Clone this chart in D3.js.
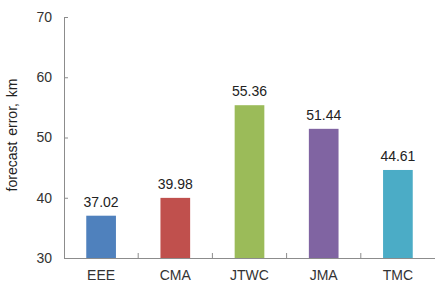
<!DOCTYPE html>
<html>
<head>
<meta charset="utf-8">
<script src="https://cdn.jsdelivr.net/npm/d3@7"></script>
<style>
  body { margin: 0; background: #fff; }
  svg { display: block; font-family: "Liberation Sans", Arial, sans-serif; }
</style>
</head>
<body>
<svg id="chart" width="435" height="285"></svg>
<script>
// forecast error per agency
const agencies = ['EEE', 'CMA', 'JTWC', 'JMA', 'TMC'];
const errors = [37.02, 39.98, 55.36, 51.44, 44.61];
const barColors = ['#4f81bd', '#c0504d', '#9bbb59', '#8064a2', '#4bacc6'];
const yTicks = [30, 40, 50, 60, 70];

const svg = d3.select('#chart');
const margin = { top: 17, right: 0, bottom: 27, left: 64 };
const width = 435 - margin.left - margin.right;
const height = 285 - margin.top - margin.bottom;

const g = svg.append('g').attr('transform', `translate(${margin.left},${margin.top})`);

const x = d3.scaleBand().domain(agencies).range([0, width]).paddingInner(0.6).paddingOuter(0.3);
const y = d3.scaleLinear().domain([30, 70]).range([height, 0]);

// y axis, ticks pointing inside
const yAxis = g.append('g').call(d3.axisLeft(y).tickValues(yTicks).tickSizeInner(-4).tickSizeOuter(0).tickPadding(12));
yAxis.select('.domain').attr('stroke', '#8c8c8c');
yAxis.selectAll('line').attr('stroke', '#8c8c8c');
yAxis.selectAll('text').attr('fill', '#333').attr('font-size', '14px').attr('font-family', null);

// x axis: ticks between categories, pointing up
const xAxis = g.append('g').attr('transform', `translate(0,${height})`)
  .call(d3.axisBottom(x).tickSize(0).tickPadding(12));
xAxis.select('.domain').attr('stroke', '#8c8c8c');
xAxis.selectAll('text').attr('fill', '#333').attr('font-size', '14px').attr('font-family', null);

const step = x.step();
g.append('g').selectAll('line')
  .data(agencies.slice(1))
  .enter().append('line')
  .attr('x1', d => x(d) - (step - x.bandwidth()) / 2)
  .attr('x2', d => x(d) - (step - x.bandwidth()) / 2)
  .attr('y1', height).attr('y2', height - 5)
  .attr('stroke', '#8c8c8c');

const data = agencies.map((a, i) => ({ name: a, val: errors[i], color: barColors[i] }));

g.selectAll('.bar')
  .data(data)
  .enter().append('rect')
  .attr('class', 'bar')
  .attr('x', d => x(d.name))
  .attr('width', x.bandwidth())
  .attr('y', d => y(d.val))
  .attr('height', d => height - y(d.val))
  .attr('fill', d => d.color);

g.selectAll('.val')
  .data(data)
  .enter().append('text')
  .attr('class', 'val')
  .attr('x', d => x(d.name) + x.bandwidth() / 2)
  .attr('y', d => y(d.val) - 9)
  .attr('text-anchor', 'middle')
  .attr('fill', '#222')
  .attr('font-size', '14px')
  .text(d => d.val.toFixed(2));

svg.append('text')
  .attr('transform', 'translate(17,135) rotate(-90)')
  .attr('text-anchor', 'middle')
  .attr('fill', '#222')
  .attr('font-size', '14px')
  .attr('word-spacing', '2px')
  .text('forecast error, km');
</script>
</body>
</html>
